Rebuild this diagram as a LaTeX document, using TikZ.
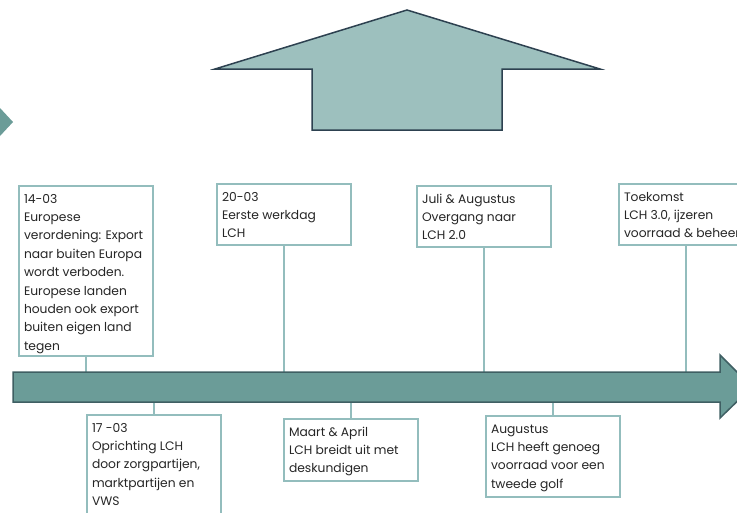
\documentclass[tikz,border=0pt]{standalone}
\usepackage{fontspec}
\setmainfont{Poppins}
\definecolor{boxline}{HTML}{93BDBD}
\definecolor{tlfill}{HTML}{6B9C98}
\definecolor{tlline}{HTML}{3F5F63}
\definecolor{upfill}{HTML}{9DC0BE}
\definecolor{upline}{HTML}{2D4150}
\definecolor{txt}{HTML}{262626}
\newcommand{\bxt}[2]{\parbox[t][#1][t]{124pt}{\raggedright\fontsize{12.3}{18.4}\selectfont\rule{0pt}{17pt}#2}}
\tikzset{
  tbox/.style={draw=boxline, line width=2pt, fill=white, text=txt, inner xsep=5pt, inner ysep=0pt, anchor=north west},
  conn/.style={draw=boxline, line width=2pt},
}
\begin{document}
\begin{tikzpicture}[x=1pt,y=-1pt]
\useasboundingbox (0,0) rectangle (737,512);
\clip (0,0) rectangle (737,512);
% left partial arrow
\fill[tlfill] (0,108) -- (13,122) -- (0,136) -- cycle;
% up arrow
\draw[fill=upfill, draw=upline, line width=1.5pt] (312,130) -- (312,69) -- (215,69) -- (407,10) -- (600,69) -- (502,69) -- (502,130) -- cycle;
% timeline coordinates
\coordinate (tltop) at (0,372);
\coordinate (tlbot) at (0,402);
% boxes
\node[tbox] (b1) at (18,185) {\bxt{170pt}{14-03\\Europese\\verordening: Export\\naar buiten Europa\\wordt verboden.\\Europese landen\\houden ook export\\buiten eigen land\\tegen}};
\node[tbox] (b2) at (216,183) {\bxt{61pt}{20-03\\Eerste werkdag\\LCH}};
\node[tbox] (b3) at (416,185) {\bxt{61pt}{Juli \& Augustus\\Overgang naar\\LCH 2.0}};
\node[tbox] (b4) at (618,183) {\bxt{61pt}{Toekomst\\LCH 3.0, ijzeren\\voorraad \& beheer}};
\node[tbox] (b5) at (86,414) {\bxt{110pt}{17 -03\\Oprichting LCH\\door zorgpartijen,\\marktpartijen en\\VWS}};
\node[tbox] (b6) at (283,418) {\bxt{62pt}{Maart \& April\\LCH breidt uit met\\deskundigen}};
\node[tbox] (b7) at (485,415) {\bxt{81pt}{Augustus\\LCH heeft genoeg\\voorraad voor een\\tweede golf}};
% connectors
\foreach \b in {b1,b2,b3,b4} \draw[conn] (\b.south) -- (\b.south |- tltop);
\foreach \b in {b5,b6,b7} \draw[conn] (\b.north) -- (\b.north |- tlbot);
% timeline arrow
\draw[fill=tlfill, draw=tlline, line width=1.5pt] (13,372) -- (720,372) -- (720,355) -- (752,387) -- (720,418) -- (720,402) -- (13,402) -- cycle;
\end{tikzpicture}
\end{document}
